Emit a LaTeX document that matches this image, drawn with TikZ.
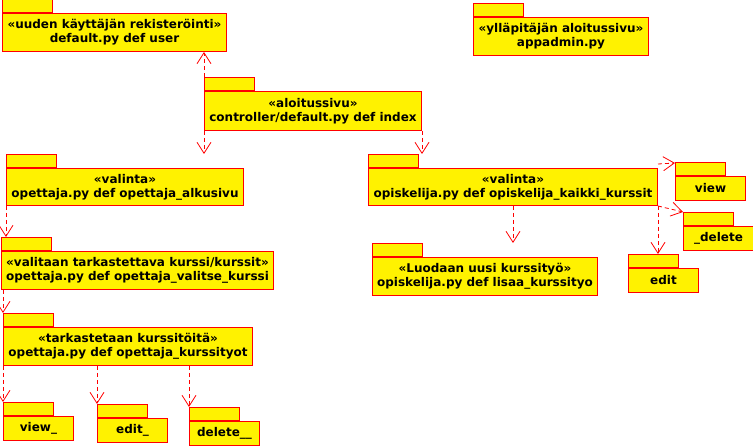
\documentclass[tikz,border=0pt]{standalone}
\usepackage{fontspec}
\setmainfont{DejaVu Sans}
\usetikzlibrary{arrows.meta, positioning}

\tikzset{
  pkg/.style={draw=red, fill=yellow, line width=1pt, anchor=north west, align=center, inner sep=0pt, font=\fontsize{12}{14}\selectfont\bfseries},
  tab/.style={draw=red, fill=yellow, line width=1pt, minimum width=50pt, minimum height=13pt, inner sep=0pt},
  dep/.style={red, line width=0.8pt, dash pattern=on 4pt off 3pt, -{Straight Barb[length=11pt, width=14pt, line width=0.8pt]}},
}

\begin{document}
\begin{tikzpicture}[x=1pt, y=-1pt]
\useasboundingbox (0,0) rectangle (753,446);
% packages, top row
\node[pkg, minimum width=224pt, minimum height=38pt] (user) at (2,13) {«uuden käyttäjän rekisteröinti»\\default.py def user};
\node[tab, above right=0pt and 0pt of user.north west] (usertab) {};
\node[pkg, minimum width=175pt, minimum height=38pt] (admin) at (473,17) {«ylläpitäjän aloitussivu»\\appadmin.py};
\node[tab, above right=0pt and 0pt of admin.north west] (admintab) {};
\node[pkg, minimum width=217pt, minimum height=39pt] (index) at (204,91) {«aloitussivu»\\controller/default.py def index};
\node[tab, above right=0pt and 0pt of index.north west] (indextab) {};
% opettaja side
\node[pkg, minimum width=237pt, minimum height=37pt] (opettaja) at (6,168) {«valinta»\\opettaja.py def opettaja\_alkusivu};
\node[tab, above right=0pt and 0pt of opettaja.north west] (opettajatab) {};
\node[pkg, minimum width=272pt, minimum height=38pt] (valitse) at (1,251) {«valitaan tarkastettava kurssi/kurssit»\\opettaja.py def opettaja\_valitse\_kurssi};
\node[tab, above right=0pt and 0pt of valitse.north west] (valitsetab) {};
\node[pkg, minimum width=249pt, minimum height=38pt] (kurssityot) at (3,327) {«tarkastetaan kurssitöitä»\\opettaja.py def opettaja\_kurssityot};
\node[tab, above right=0pt and 0pt of kurssityot.north west] (kurssityottab) {};
\node[pkg, minimum width=70pt, minimum height=24pt] (viewo) at (3,416) {view\_};
\node[tab, above right=0pt and 0pt of viewo.north west] (viewotab) {};
\node[pkg, minimum width=70pt, minimum height=24pt] (edito) at (97,418) {edit\_};
\node[tab, above right=0pt and 0pt of edito.north west] (editotab) {};
\node[pkg, minimum width=70pt, minimum height=24pt] (deleteo) at (189,421) {delete\_\_};
\node[tab, above right=0pt and 0pt of deleteo.north west] (deleteotab) {};
% opiskelija side
\node[pkg, minimum width=289pt, minimum height=37pt] (opisk) at (368,168) {«valinta»\\opiskelija.py def opiskelija\_kaikki\_kurssit};
\node[tab, above right=0pt and 0pt of opisk.north west] (opisktab) {};
\node[pkg, minimum width=225pt, minimum height=38pt] (uusi) at (372,257) {«Luodaan uusi kurssityö»\\opiskelija.py def lisaa\_kurssityo};
\node[tab, above right=0pt and 0pt of uusi.north west] (uusitab) {};
\node[pkg, minimum width=70pt, minimum height=24pt] (view) at (675,176) {view};
\node[tab, above right=0pt and 0pt of view.north west] (viewtab) {};
\node[pkg, minimum width=70pt, minimum height=24pt] (delete) at (683,226) {\_delete};
\node[tab, above right=0pt and 0pt of delete.north west] (deletetab) {};
\node[pkg, minimum width=70pt, minimum height=24pt] (edit) at (628,268) {edit};
\node[tab, above right=0pt and 0pt of edit.north west] (edittab) {};
% dependencies
\draw[dep] (indextab.north west) -- (indextab.north west |- user.south);
\draw[dep] (index.south west) -- (index.south west |- opettajatab.north);
\draw[dep] (index.south east) -- (index.south east |- opisktab.north);
\draw[dep] (opettaja.south west) -- (opettaja.south west |- valitsetab.north);
\draw[dep] (kurssityottab.north west |- valitse.south) -- (kurssityottab.north west);
\draw[dep] (kurssityot.south west) -- (viewotab.north west);
\draw[dep] (editotab.north west |- kurssityot.south) -- (editotab.north west);
\draw[dep] (deleteotab.north west |- kurssityot.south) -- (deleteotab.north west);
\draw[dep] (opisk.south) -- (opisk.south |- uusitab.north);
\draw[dep] ([yshift=4pt]opisk.north east) -- ([yshift=-1pt]viewtab.north west);
\draw[dep] (opisk.south east) -- (deletetab.north west);
\draw[dep] (opisk.south east) -- (opisk.south east |- edittab.north);
\end{tikzpicture}
\end{document}
